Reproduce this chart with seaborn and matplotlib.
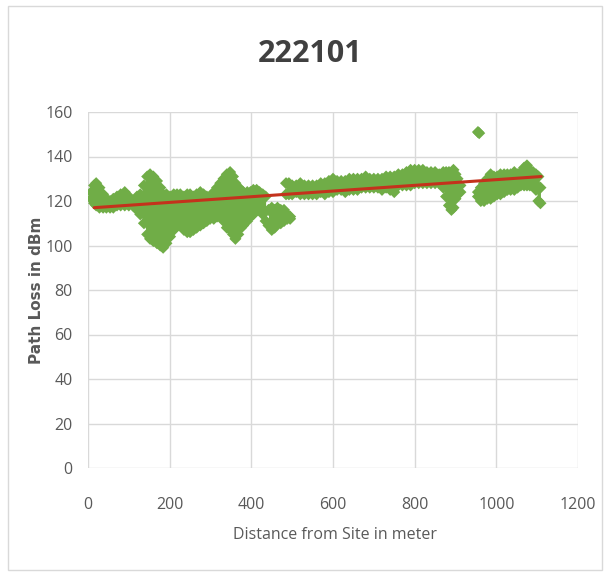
import matplotlib
matplotlib.use("Agg")
import matplotlib.pyplot as plt
from matplotlib import font_manager
from matplotlib.patches import Rectangle
import seaborn as sns
import pandas as pd

# ---------------- data ----------------
# Segment A: 8 m .. 435 m, upper / lower edge of the measured cloud
segA_x = [8, 15, 20, 28, 37, 45, 54, 62, 71, 80, 90, 100, 110, 120, 128, 137, 145,
          152, 160, 169, 177, 184, 192, 201, 210, 218, 226, 235, 243, 250, 258, 266,
          275, 283, 291, 299, 308, 316, 324, 332, 340, 348, 355, 361, 368, 375, 380,
          390, 398, 405, 413, 420, 428, 435]
segA_top = [124, 127, 128, 126, 123, 121, 120, 121, 122, 123, 124, 122, 120, 122, 123,
            127, 131, 132, 131, 129, 126, 123, 123, 122, 123, 123, 123, 122, 123, 123,
            122, 123, 124, 123, 122, 122, 124, 126, 128, 130, 132, 133, 131, 128, 126,
            125, 124, 124, 124, 125, 125, 124, 123, 122]
segA_bot = [121, 119, 118, 117, 117, 117, 117, 117, 118, 118, 118, 118, 118, 116, 114,
            110, 105, 103, 102, 101, 100, 99, 101, 104, 107, 109, 109, 107, 106, 106,
            107, 108, 109, 110, 111, 112, 112, 113, 113, 111, 108, 107, 105, 103, 105,
            108, 109, 111, 113, 114, 116, 116, 114, 111]

# Lower cluster around 440 .. 495 m
segL_x = [442, 450, 457, 464, 472, 480, 488, 495]
segL_top = [116, 117, 116, 117, 116, 116, 114, 113]
segL_bot = [109, 107, 108, 110, 110, 111, 112, 112]

# Segment B: 485 .. 912 m
segB_x = [485, 492, 500, 510, 520, 530, 540, 550, 560, 570, 580, 590, 600, 610, 620,
          630, 640, 650, 660, 670, 680, 690, 700, 710, 720, 730, 740, 750, 760, 770,
          780, 790, 800, 810, 820, 830, 840, 850, 860, 870, 877, 884, 890, 895, 900,
          905, 912]
segB_top = [128, 128, 127, 127, 128, 127, 127, 127, 127, 128, 128, 129, 130, 129, 129,
            129, 130, 130, 130, 130, 131, 130, 130, 130, 130, 131, 131, 131, 132, 132,
            133, 134, 134, 134, 134, 133, 133, 133, 132, 133, 133, 133, 131, 134, 132,
            130, 127]
segB_bot = [123, 123, 123, 124, 123, 123, 123, 123, 123, 124, 123, 124, 124, 125, 125,
            124, 125, 125, 125, 126, 126, 126, 126, 126, 125, 126, 125, 124, 127, 127,
            127, 127, 128, 128, 128, 128, 128, 128, 128, 126, 122, 118, 116, 117, 121,
            123, 124]

# Segment C: 955 .. 1108 m
segC_x = [955, 962, 970, 978, 986, 994, 1002, 1010, 1019, 1027, 1035, 1044, 1052, 1060,
          1068, 1075, 1082, 1090, 1097, 1103, 1108]
segC_top = [124, 126, 128, 130, 132, 131, 131, 132, 132, 132, 132, 133, 132, 133, 135,
            136, 134, 133, 132, 131, 126]
segC_bot = [122, 120, 120, 121, 121, 122, 123, 123, 124, 125, 125, 125, 126, 127, 127,
            127, 127, 127, 125, 120, 119]

# isolated high reading
outlier_x = [955, 958]
outlier_y = [151, 150.5]

# linear trend line end points
trend_x = [15, 1110]
trend_y = [117, 131]

x_ticks = [0, 200, 400, 600, 800, 1000, 1200]
y_ticks = [0, 20, 40, 60, 80, 100, 120, 140, 160]

title = "222101"
x_label = "Distance from Site in meter"
y_label = "Path Loss in dBm"

# ---------------- style ----------------
GREEN = "#70AD47"
RED = "#C4321C"
GRID = "#D9D9D9"
TXT = "#595959"


def pick(*names):
    for n in names:
        try:
            font_manager.findfont(n, fallback_to_default=False)
            return n
        except Exception:
            pass
    return "DejaVu Sans"


narrow = pick("Liberation Sans Narrow", "Open Sans", "Lato")

sns.set_theme(style="whitegrid")
plt.rcParams["font.family"] = [narrow, "DejaVu Sans"]

fig = plt.figure(figsize=(6.05, 5.77), dpi=100)
ax = fig.add_axes([88 / 605, 1 - 468 / 577, (578 - 88) / 605, (468 - 112) / 577])
ax.set_facecolor("white")

segments = [(segA_x, segA_top, segA_bot), (segL_x, segL_top, segL_bot),
            (segB_x, segB_top, segB_bot), (segC_x, segC_top, segC_bot)]

for sx, st, sb in segments:
    ax.fill_between(sx, sb, st, color=GREEN, linewidth=0, zorder=2)

rows = []
for sx, st, sb in segments:
    for xv, t, b in zip(sx, st, sb):
        rows.append((xv, t))
        rows.append((xv, b))
for xv, yv in zip(outlier_x, outlier_y):
    rows.append((xv, yv))
df = pd.DataFrame(rows, columns=["dist", "loss"])

sns.scatterplot(data=df, x="dist", y="loss", ax=ax, marker="D", s=38,
                color=GREEN, edgecolor="none", linewidth=0, zorder=3, legend=False)

trend = pd.DataFrame({"dist": trend_x, "loss": trend_y})
sns.lineplot(data=trend, x="dist", y="loss", ax=ax, color=RED, linewidth=2.2,
             zorder=4, legend=False)

ax.set_xlim(0, 1200)
ax.set_ylim(0, 160)
ax.set_xticks(x_ticks)
ax.set_yticks(y_ticks)
ax.grid(True, color=GRID, linewidth=1.0)
for sp in ax.spines.values():
    sp.set_visible(False)
ax.tick_params(axis="both", length=0, colors=TXT, labelsize=11.5)
ax.tick_params(axis="y", pad=11)
ax.tick_params(axis="x", pad=21)
ax.set_xlabel("")
ax.set_ylabel("")

fig.text(37 / 605, 1 - 290 / 577, y_label, rotation=90, ha="center", va="center",
         color=TXT, fontsize=11, fontweight="bold", family=["DejaVu Sans"])
fig.text(335 / 605, 1 - 535 / 577, x_label, ha="center", va="center",
         color=TXT, fontsize=11.5)
fig.text(310 / 605, 1 - 54 / 577, title, ha="center", va="center",
         color="#404040", fontsize=22, fontweight="bold")

fig.patches.append(Rectangle((8 / 605, 1 - 570 / 577), (602 - 8) / 605, (570 - 6) / 577,
                             transform=fig.transFigure, fill=False,
                             edgecolor=GRID, linewidth=1.0))

fig.savefig("out.png", dpi=100, facecolor="white")
